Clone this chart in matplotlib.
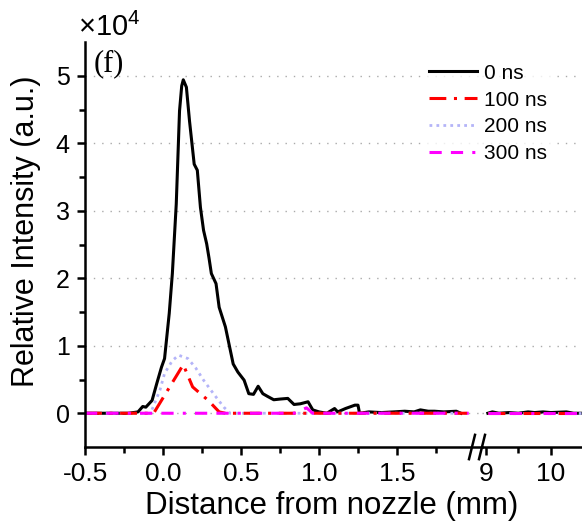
import matplotlib
matplotlib.use("Agg")
import matplotlib.pyplot as plt
import numpy as np

plt.rcParams['font.family'] = ['Liberation Sans', 'DejaVu Sans']
plt.rcParams['mathtext.fontset'] = 'custom'
plt.rcParams['mathtext.rm'] = 'Liberation Sans'

# ---- data (intensity in units of 1e4) ----
x_0ns = [-0.5, -0.4, -0.3, -0.22, -0.16, -0.13, -0.11, -0.07, -0.04, -0.01, 0.01, 0.04,
         0.06, 0.085, 0.106, 0.12, 0.13, 0.15, 0.17, 0.2, 0.22, 0.24, 0.26, 0.28, 0.295,
         0.31, 0.34, 0.36, 0.40, 0.45, 0.48, 0.52, 0.55, 0.58, 0.61, 0.64, 0.67, 0.71,
         0.75, 0.80, 0.84, 0.88, 0.93, 0.96, 1.0, 1.05, 1.10, 1.12, 1.17, 1.23, 1.25,
         1.26, 1.32, 1.40, 1.48, 1.55, 1.61, 1.65, 1.70, 1.74, 1.80, 1.88, 1.91]
y_0ns = [0, 0, 0, 0, 0.02, 0.1, 0.09, 0.19, 0.44, 0.68, 0.81, 1.48,
         2.07, 3.1, 4.48, 4.85, 4.94, 4.83, 4.33, 3.69, 3.6, 3.05, 2.71, 2.51, 2.3,
         2.07, 1.92, 1.57, 1.28, 0.73, 0.61, 0.49, 0.29, 0.28, 0.40, 0.29, 0.25, 0.20,
         0.21, 0.22, 0.13, 0.14, 0.17, 0.05, 0.02, 0, 0.07, 0.02, 0.07, 0.12, 0.12,
         0, 0.02, 0.01, 0.02, 0.03, 0.02, 0.05, 0.03, 0.03, 0.02, 0.03, 0]
x_100ns = [-0.5, -0.06, 0.13, 0.19, 0.29, 0.36, 0.40, 1.95]
y_100ns = [0, 0, 0.72, 0.39, 0.19, 0.02, 0, 0]
x_200ns = [-0.5, -0.08, -0.02, 0.01, 0.06, 0.10, 0.16, 0.21, 0.26, 0.33, 0.39, 0.43, 1.95]
y_200ns = [0, 0, 0.34, 0.59, 0.78, 0.86, 0.81, 0.67, 0.49, 0.27, 0.09, 0, 0]
x_300ns = [-0.5, 0.84, 0.88, 0.92, 0.96, 1.96]
y_300ns = [0, 0, 0.04, 0.08, 0, 0]

# far segment (after the axis break)
xr_0ns = [9.03, 9.1, 9.2, 9.35, 9.5, 9.65, 9.75, 9.88, 10.0, 10.24, 10.35, 10.48]
yr_0ns = [0, 0.02, 0.0, 0.01, 0.0, 0.02, 0.01, 0.02, 0.01, 0.02, 0.0, 0.0]
xr_flat = [9.03, 10.48]
yr_flat = [0, 0]

labels = ['0 ns', '100 ns', '200 ns', '300 ns']

styles = [
    dict(color='black', lw=2.2, ls='-'),
    dict(color='#ff0000', lw=2.2, ls=(0, (5.5, 2.5, 1, 2.5))),
    dict(color='#b4b4f8', lw=2, ls=(0, (1, 1.5))),
    dict(color='#ff00ff', lw=2.2, ls=(0, (4, 3, 4, 3, 1, 3))),
]

fig = plt.figure(figsize=(5.82, 5.29), dpi=100)
ax1 = fig.add_axes([85/582, 1-447/529, (482-85)/582, (447-42)/529])
ax2 = fig.add_axes([482/582, 1-447/529, 100/582, (447-42)/529])

left_data = [(x_0ns, y_0ns), (x_100ns, y_100ns), (x_200ns, y_200ns), (x_300ns, y_300ns)]
right_data = [(xr_0ns, yr_0ns), (xr_flat, yr_flat), (xr_flat, yr_flat), (xr_flat, yr_flat)]

handles = {}
for i in [0, 2, 1, 3]:
    h, = ax1.plot(*left_data[i], label=labels[i], **styles[i])
    ax2.plot(*right_data[i], **styles[i])
    handles[i] = h
handles = [handles[i] for i in range(4)]

for ax in (ax1, ax2):
    ax.set_ylim(-0.5, 5.5)
    ax.set_yticks(range(0, 6))
    ax.set_yticks(np.arange(0.5, 5.5, 1), minor=True)
    ax.yaxis.grid(True, which='major', color='#aaaaaa', lw=1, ls=(0, (1, 5)))
    ax.set_axisbelow(True)
    for s in ['top', 'right']:
        ax.spines[s].set_visible(False)
    ax.spines['bottom'].set_linewidth(1.8)
    ax.spines['left'].set_linewidth(1.8)
    ax.tick_params(which='major', direction='out', length=6, width=1.8)
    ax.tick_params(which='minor', direction='out', length=4, width=1.8)
    ax.tick_params(axis='x', labelsize=19, pad=5)
    ax.tick_params(axis='y', labelsize=18, pad=5)

ax1.set_xlim(-0.5, 2.045)
ax1.set_xticks([-0.5, 0.0, 0.5, 1.0, 1.5])
ax1.set_xticklabels(['-0.5', '0.0', '0.5', '1.0', '1.5'])
ax1.set_xticks(np.arange(-0.25, 2.0, 0.5), minor=True)

ax2.set_xlim(8.94, 10.48)
ax2.set_xticks([9, 10])
ax2.set_xticks([9.5], minor=True)
ax2.spines['left'].set_visible(False)
ax2.tick_params(axis='y', which='both', left=False, labelleft=False)
ax2.patch.set_alpha(0)

# break marks on the x axis
for dx in (-0.1, 0.0):
    ax2.plot([dx - 0.03, dx + 0.03], [-0.03, 0.03], transform=ax2.transAxes,
             color='black', lw=1.8, clip_on=False)

fig.text(26/582, 1-231/529, 'Relative Intensity (a.u.)', fontsize=22,
         rotation=90, ha='center', va='center')
fig.text(332/582, 1-506/529, 'Distance from nozzle (mm)', fontsize=22.5,
         ha='center', va='center')
fig.text(78/582, 1-27/529, r'$\times10^4$', fontsize=21, ha='left', va='center')
fig.text(94/582, 1-64/529, '(f)', fontsize=22, family='Liberation Serif',
         ha='left', va='center')

leg = fig.legend(handles, labels, loc='upper left', bbox_to_anchor=(412/582, 1-47/529),
                 fontsize=15, frameon=True, handlelength=2.3, labelspacing=0.38,
                 handletextpad=0.35, borderpad=0.3)
leg.get_frame().set_edgecolor('none')
leg.get_frame().set_facecolor('white')

fig.savefig('out.png', dpi=100)
